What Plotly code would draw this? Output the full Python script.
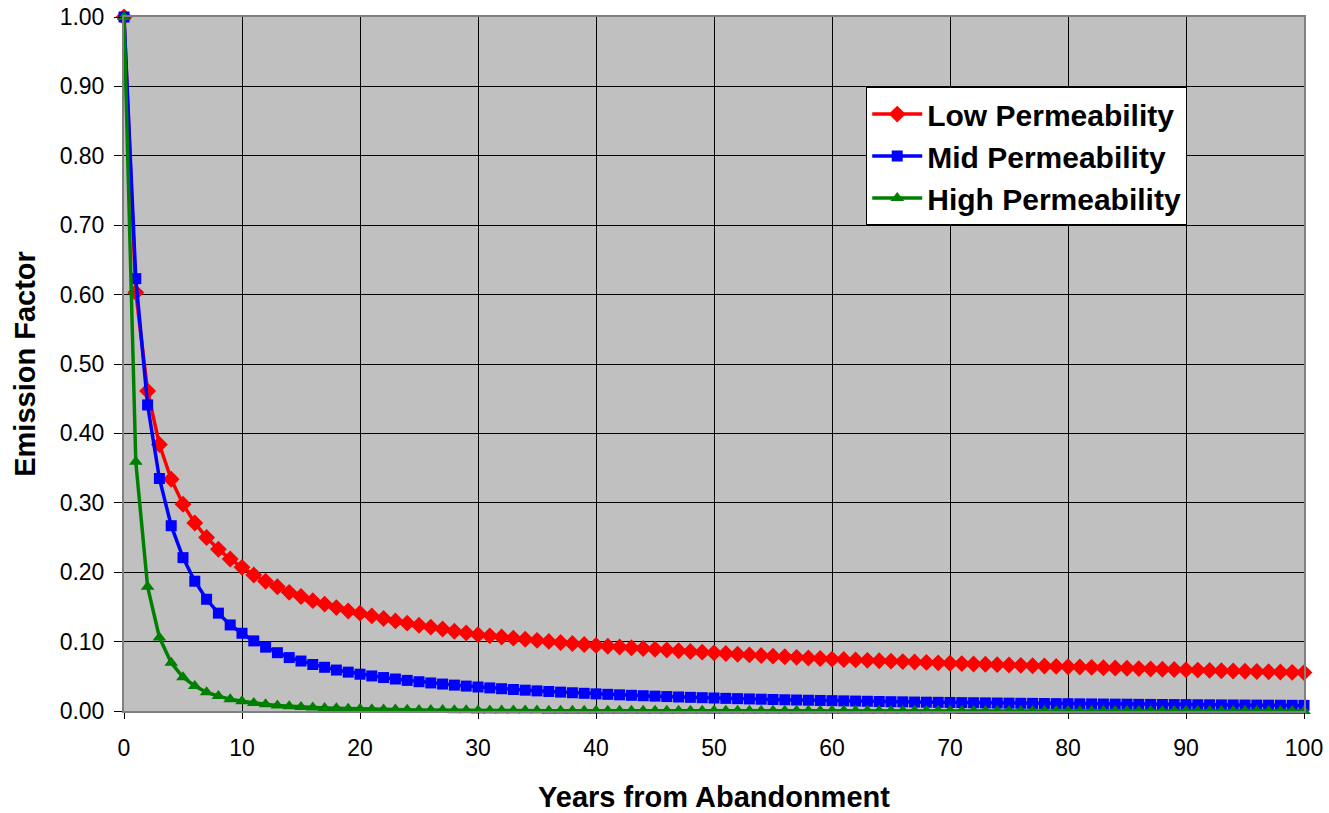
import plotly.graph_objects as go

years = list(range(0, 101))

low_perm = [
    1.000, 0.603, 0.461, 0.384, 0.334, 0.298, 0.271, 0.250, 0.233, 0.219,
    0.207, 0.196, 0.187, 0.179, 0.171, 0.165, 0.159, 0.154, 0.149, 0.144,
    0.1410, 0.1370, 0.1333, 0.1298, 0.1266, 0.1236, 0.1208, 0.1181, 0.1150, 0.1125,
    0.1100, 0.1083, 0.1066, 0.1050, 0.1034, 0.1018, 0.1003, 0.0988, 0.0973, 0.0959,
    0.0945, 0.0934, 0.0923, 0.0912, 0.0901, 0.0890, 0.0879, 0.0868, 0.0858, 0.0848,
    0.0838, 0.0828, 0.0818, 0.0808, 0.0799, 0.0790, 0.0781, 0.0773, 0.0764, 0.0756,
    0.0748, 0.0742, 0.0736, 0.0730, 0.0724, 0.0718, 0.0712, 0.0706, 0.0700, 0.0694,
    0.0688, 0.0683, 0.0678, 0.0673, 0.0668, 0.0663, 0.0658, 0.0653, 0.0648, 0.0643,
    0.0638, 0.0633, 0.0629, 0.0624, 0.0620, 0.0615, 0.0611, 0.0606, 0.0602, 0.0597,
    0.0593, 0.0589, 0.0585, 0.0581, 0.0577, 0.0573, 0.0569, 0.0565, 0.0561, 0.0557,
    0.0553,
]

mid_perm = [
    1.000, 0.623, 0.441, 0.335, 0.267, 0.221, 0.187, 0.161, 0.141, 0.124,
    0.112, 0.101, 0.092, 0.084, 0.077, 0.072, 0.067, 0.063, 0.059, 0.056,
    0.0530, 0.0505, 0.0482, 0.0461, 0.0441, 0.0422, 0.0404, 0.0388, 0.0373, 0.0359,
    0.0346, 0.0333, 0.0321, 0.0310, 0.0300, 0.0290, 0.0281, 0.0272, 0.0263, 0.0255,
    0.0247, 0.0240, 0.0233, 0.0226, 0.0220, 0.0214, 0.0208, 0.0202, 0.0197, 0.0192,
    0.0187, 0.0182, 0.0178, 0.0174, 0.0170, 0.0166, 0.0162, 0.0158, 0.0155, 0.0152,
    0.0149, 0.0146, 0.0143, 0.0140, 0.0137, 0.0134, 0.0132, 0.0129, 0.0127, 0.0125,
    0.0123, 0.0121, 0.0119, 0.0117, 0.0115, 0.0113, 0.0111, 0.0110, 0.0108, 0.0106,
    0.0105, 0.0103, 0.0102, 0.0100, 0.0099, 0.0098, 0.0096, 0.0095, 0.0094, 0.0093,
    0.0092, 0.0090, 0.0089, 0.0088, 0.0087, 0.0086, 0.0085, 0.0084, 0.0083, 0.0082,
    0.0081,
]

high_perm = [
    1.000, 0.359, 0.179, 0.106, 0.0696, 0.0485, 0.036, 0.027, 0.0215, 0.017,
    0.0140, 0.0115, 0.0096, 0.0081, 0.0069, 0.0059, 0.0051, 0.0044, 0.0038, 0.0033,
    0.0029, 0.0026, 0.0023, 0.0020, 0.0018, 0.0016, 0.0014, 0.0013, 0.0011, 0.0010,
    0.0009, 0.0008, 0.0007, 0.0007, 0.0006, 0.0006, 0.0005, 0.0005, 0.0004, 0.0004,
    0.0004, 0.0003, 0.0003, 0.0003, 0.0003, 0.0003, 0.0003, 0.0003, 0.0003, 0.0003,
    0.0003, 0.0002, 0.0002, 0.0002, 0.0002, 0.0002, 0.0002, 0.0002, 0.0002, 0.0002,
    0.0002, 0.0002, 0.0002, 0.0002, 0.0002, 0.0002, 0.0002, 0.0002, 0.0002, 0.0002,
    0.0002, 0.0001, 0.0001, 0.0001, 0.0001, 0.0001, 0.0001, 0.0001, 0.0001, 0.0001,
    0.0001, 0.0001, 0.0001, 0.0001, 0.0001, 0.0001, 0.0001, 0.0001, 0.0001, 0.0001,
    0.0001, 0.0001, 0.0001, 0.0001, 0.0001, 0.0001, 0.0001, 0.0001, 0.0001, 0.0001,
    0.0001,
]

series_names = ["Low Permeability", "Mid Permeability", "High Permeability"]
series_vals = [low_perm, mid_perm, high_perm]
colors = ["#FF0000", "#0000FF", "#008000"]
symbols = ["diamond", "square", "triangle-up"]
msizes = [13, 11, 12]

fig = go.Figure()
for name, vals, c, s, ms in zip(series_names, series_vals, colors, symbols, msizes):
    fig.add_trace(go.Scatter(
        x=years, y=vals, name=name, mode="lines+markers",
        line=dict(color=c, width=3.5),
        marker=dict(symbol=s, size=ms, color=c, line=dict(width=0)),
        cliponaxis=False,
    ))

font_family = "Arial, Liberation Sans, sans-serif"

fig.update_layout(
    width=1329, height=813,
    margin=dict(l=124, r=25, t=17, b=102),
    paper_bgcolor="white",
    plot_bgcolor="#C0C0C0",
    font=dict(family=font_family, color="black", size=24),
    showlegend=True,
    legend=dict(
        x=0.629, y=0.899, xanchor="left", yanchor="top",
        bgcolor="white", bordercolor="black", borderwidth=1,
        font=dict(family=font_family, size=30, color="black", weight="bold"),
        itemwidth=50, tracegroupgap=0,
    ),
    xaxis=dict(
        range=[0, 100], tickmode="linear", tick0=0, dtick=10,
        showgrid=True, gridcolor="#000000", gridwidth=1,
        showline=True, linecolor="#808080", linewidth=2, mirror=True,
        ticks="outside", ticklen=6, tickcolor="#000000",
        ticklabelstandoff=9,
        tickfont=dict(size=23),
        title=dict(text="<b>Years from Abandonment</b>", font=dict(size=29), standoff=32),
        zeroline=False, automargin=False,
    ),
    yaxis=dict(
        range=[0, 1.0], tickmode="linear", tick0=0, dtick=0.1, tickformat=".2f",
        showgrid=True, gridcolor="#000000", gridwidth=1,
        showline=True, linecolor="#808080", linewidth=2, mirror=True,
        ticks="outside", ticklen=8, tickcolor="#000000",
        ticklabelstandoff=5,
        tickfont=dict(size=23),
        title=dict(text="<b>Emission Factor</b>", font=dict(size=29), standoff=15),
        zeroline=False, automargin=False,
    ),
)

fig.write_html("out.html", config={"displayModeBar": False},
               post_script="document.body.style.margin='0px';")
